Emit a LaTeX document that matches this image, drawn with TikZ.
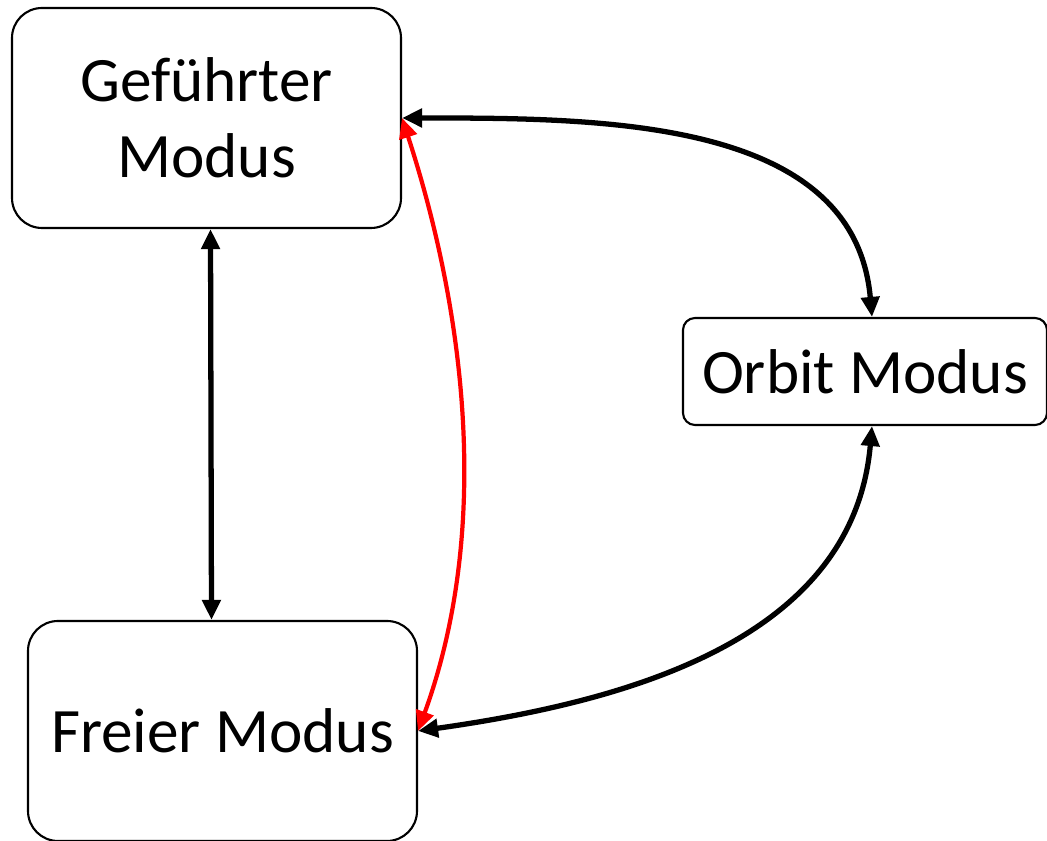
\documentclass[tikz,border=0pt]{standalone}
\usepackage{fontspec}
\setmainfont{Carlito}
\usepackage{xcolor}
\usetikzlibrary{arrows.meta,positioning,calc}
\definecolor{ink}{HTML}{000000}
\definecolor{redc}{HTML}{FF0000}

\begin{document}
\begin{tikzpicture}[mode/.style={draw=ink,line width=0.6pt,rounded corners=0.3cm,align=center,inner sep=0pt,font=\fontsize{18}{21.5}\selectfont},
 link/.style={line width=1.5pt,{Triangle[length=2mm,width=1.8mm]}-{Triangle[length=2mm,width=1.8mm]}}]
\useasboundingbox (0,0) rectangle (10.47,-8.41);
\node[mode,minimum width=3.89cm,minimum height=2.20cm] (gef) at (2.065,-1.18) {Geführter\\Modus};
\node[mode,minimum width=3.64cm,minimum height=1.07cm,rounded corners=0.12cm] (orb) at (8.65,-3.715) {Orbit Modus};
\node[mode,minimum width=3.89cm,minimum height=2.20cm] (frei) at (2.225,-7.31) {Freier Modus};

\draw[link,ink] ([xshift=0.4mm]gef.south) -- ([xshift=-1.1mm]frei.north);
\draw[link,ink] (gef.east) to[out=0,in=95] ([xshift=0.7mm]orb.north);
\draw[link,ink] ([xshift=0.7mm]orb.south) to[out=-95,in=8] (frei.east);
\draw[link,redc,line width=1.2pt] (gef.east) to[out=-72,in=70,looseness=0.88] (frei.east);
\end{tikzpicture}
\end{document}
